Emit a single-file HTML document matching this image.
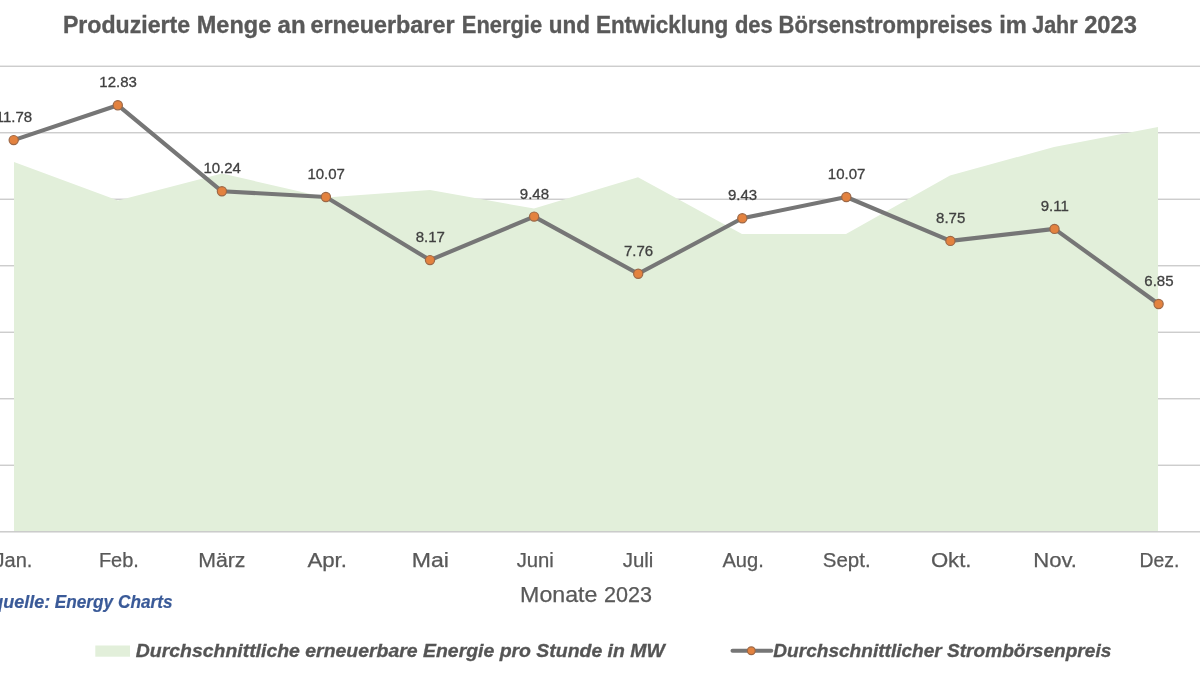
<!DOCTYPE html>
<html>
<head>
<meta charset="utf-8">
<style>
html,body{margin:0;padding:0;background:#fff;width:1200px;height:675px;overflow:hidden;}
svg{display:block;will-change:transform;}
text{font-family:"Liberation Sans",sans-serif;}
</style>
</head>
<body>
<svg width="1200" height="675" viewBox="0 0 1200 675">
<rect x="0" y="0" width="1200" height="675" fill="#ffffff"/>
<!-- title -->
<g font-size="24" font-weight="bold" fill="#595959" stroke="#595959" stroke-width="0.35">
<text x="62.9" y="33.3" textLength="127.2" lengthAdjust="spacingAndGlyphs">Produzierte</text>
<text x="196.8" y="33.3" textLength="74.4" lengthAdjust="spacingAndGlyphs">Menge</text>
<text x="277.6" y="33.3" textLength="28.0" lengthAdjust="spacingAndGlyphs">an</text>
<text x="310.4" y="33.3" textLength="144.1" lengthAdjust="spacingAndGlyphs">erneuerbarer</text>
<text x="461.8" y="33.3" textLength="80.3" lengthAdjust="spacingAndGlyphs">Energie</text>
<text x="548.7" y="33.3" textLength="41.2" lengthAdjust="spacingAndGlyphs">und</text>
<text x="595.9" y="33.3" textLength="132.4" lengthAdjust="spacingAndGlyphs">Entwicklung</text>
<text x="734.9" y="33.3" textLength="37.8" lengthAdjust="spacingAndGlyphs">des</text>
<text x="778.6" y="33.3" textLength="213.9" lengthAdjust="spacingAndGlyphs">Börsenstrompreises</text>
<text x="999.3" y="33.3" textLength="27.6" lengthAdjust="spacingAndGlyphs">im</text>
<text x="1032.2" y="33.3" textLength="45.4" lengthAdjust="spacingAndGlyphs">Jahr</text>
<text x="1084.2" y="33.3" textLength="52.7" lengthAdjust="spacingAndGlyphs">2023</text>
</g>
<!-- gridlines -->
<g fill="#c8c8c8">
<rect x="0" y="65.6" width="1200" height="1.3"/>
<rect x="0" y="132.1" width="1200" height="1.3"/>
<rect x="0" y="198.6" width="1200" height="1.3"/>
<rect x="0" y="265.1" width="1200" height="1.3"/>
<rect x="0" y="331.6" width="1200" height="1.3"/>
<rect x="0" y="398.1" width="1200" height="1.3"/>
<rect x="0" y="464.6" width="1200" height="1.3"/>
</g>
<!-- area -->
<polygon fill="#e2efda" points="14,531.8 14,162 118,200.4 222,173.5 326,197.5 430,190 534,208.5 638,177.3 742,234 846,234 950,175.5 1054,147 1158,127 1158,531.8"/>
<!-- axis -->
<rect x="0" y="531.1" width="1200" height="1.4" fill="#c8c8c8"/>
<!-- line -->
<polyline fill="none" stroke="#767676" stroke-width="4.1" stroke-linejoin="round" points="13.7,140.1 117.8,105.2 221.9,191.3 325.9,197.0 430.0,260.1 534.1,216.6 638.2,273.8 742.3,218.3 846.3,197.0 950.4,240.9 1054.5,228.9 1158.6,304.0"/>
<g fill="#e3823f" stroke="#9c6847" stroke-width="1.2">
<circle cx="13.7" cy="140.1" r="4.6"/>
<circle cx="117.8" cy="105.2" r="4.6"/>
<circle cx="221.9" cy="191.3" r="4.6"/>
<circle cx="325.9" cy="197.0" r="4.6"/>
<circle cx="430.0" cy="260.1" r="4.6"/>
<circle cx="534.1" cy="216.6" r="4.6"/>
<circle cx="638.2" cy="273.8" r="4.6"/>
<circle cx="742.3" cy="218.3" r="4.6"/>
<circle cx="846.3" cy="197.0" r="4.6"/>
<circle cx="950.4" cy="240.9" r="4.6"/>
<circle cx="1054.5" cy="228.9" r="4.6"/>
<circle cx="1158.6" cy="304.0" r="4.6"/>
</g>
<!-- data labels -->
<g font-size="15" fill="#404040" stroke="#404040" stroke-width="0.3" text-anchor="middle">
<text x="14.0" y="122.1">11.78</text>
<text x="118.1" y="87.2">12.83</text>
<text x="222.2" y="173.3">10.24</text>
<text x="326.2" y="179.0">10.07</text>
<text x="430.3" y="242.1">8.17</text>
<text x="534.4" y="198.6">9.48</text>
<text x="638.5" y="255.8">7.76</text>
<text x="742.6" y="200.3">9.43</text>
<text x="846.6" y="179.0">10.07</text>
<text x="950.7" y="222.9">8.75</text>
<text x="1054.8" y="210.9">9.11</text>
<text x="1158.9" y="286.0">6.85</text>
</g>
<!-- month labels -->
<g font-size="20" fill="#595959" stroke="#595959" stroke-width="0.25">
<text x="-5.4" y="567.2" textLength="37.8" lengthAdjust="spacingAndGlyphs">Jan.</text>
<text x="98.9" y="567.2" textLength="40.0" lengthAdjust="spacingAndGlyphs">Feb.</text>
<text x="198.2" y="567.2" textLength="47.3" lengthAdjust="spacingAndGlyphs">März</text>
<text x="307.4" y="567.2" textLength="39.6" lengthAdjust="spacingAndGlyphs">Apr.</text>
<text x="411.8" y="567.2" textLength="37.2" lengthAdjust="spacingAndGlyphs">Mai</text>
<text x="516.7" y="567.2" textLength="37.2" lengthAdjust="spacingAndGlyphs">Juni</text>
<text x="622.7" y="567.2" textLength="30.7" lengthAdjust="spacingAndGlyphs">Juli</text>
<text x="722.4" y="567.2" textLength="41.4" lengthAdjust="spacingAndGlyphs">Aug.</text>
<text x="822.8" y="567.2" textLength="47.8" lengthAdjust="spacingAndGlyphs">Sept.</text>
<text x="930.9" y="567.2" textLength="40.6" lengthAdjust="spacingAndGlyphs">Okt.</text>
<text x="1033.2" y="567.2" textLength="43.8" lengthAdjust="spacingAndGlyphs">Nov.</text>
<text x="1139.4" y="567.2" textLength="39.9" lengthAdjust="spacingAndGlyphs">Dez.</text>
</g>
<!-- axis title -->
<text x="520.1" y="601.8" font-size="21.5" fill="#595959" stroke="#595959" stroke-width="0.25" textLength="77.3" lengthAdjust="spacingAndGlyphs">Monate</text>
<text x="603.9" y="601.8" font-size="21.5" fill="#595959" stroke="#595959" stroke-width="0.25" textLength="48" lengthAdjust="spacingAndGlyphs">2023</text>
<!-- source -->
<text x="50.3" y="607.5" text-anchor="end" font-size="18" font-weight="bold" font-style="italic" fill="#3a5a98" stroke="#3a5a98" stroke-width="0.2">Datenquelle:</text>
<text x="54.7" y="607.5" font-size="18" font-weight="bold" font-style="italic" fill="#3a5a98" stroke="#3a5a98" stroke-width="0.2" textLength="117.9" lengthAdjust="spacingAndGlyphs">Energy Charts</text>
<!-- legend -->
<rect x="95.3" y="645.5" width="34.7" height="11.2" fill="#e2efda"/>
<text x="135.8" y="657.4" font-size="18" font-weight="bold" font-style="italic" fill="#555555" stroke="#555555" stroke-width="0.3" textLength="529" lengthAdjust="spacingAndGlyphs">Durchschnittliche erneuerbare Energie pro Stunde in MW</text>
<line x1="732.5" y1="650.8" x2="771.3" y2="650.8" stroke="#767676" stroke-width="4" stroke-linecap="round"/>
<circle cx="751.3" cy="650.8" r="3.9" fill="#e3823f" stroke="#9c6847" stroke-width="1.2"/>
<text x="773.3" y="657.4" font-size="18" font-weight="bold" font-style="italic" fill="#555555" stroke="#555555" stroke-width="0.3" textLength="338" lengthAdjust="spacingAndGlyphs">Durchschnittlicher Strombörsenpreis</text>
</svg>
</body>
</html>
